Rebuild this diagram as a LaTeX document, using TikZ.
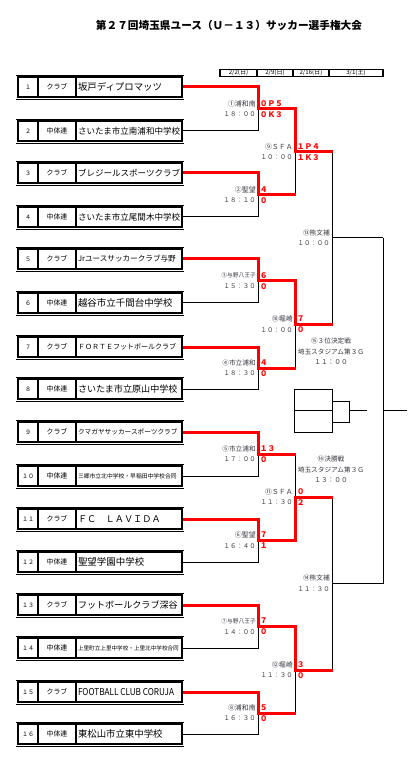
\documentclass[tikz,border=0pt]{standalone}
\usepackage{fontspec}
\setmainfont{Noto Sans CJK JP}
\usetikzlibrary{calc}
\definecolor{winred}{RGB}{255,0,0}
\definecolor{lblc}{RGB}{55,55,65}
\newcommand\fsz[1]{\fontsize{#1}{#1}\selectfont}
\newcommand\teamrow[6]{%
  \node[numcell] (n#1) at (28,#2) {#3};
  \node[typcell] (c#1) at (57,#2) {#4};
  \node[namecell] (t#1) at (129,#2) {\makebox[76.5pt][l]{\fsz{#5}#6}};
  \draw[thinl] (16,#2-12) -- (184,#2-12) (16,#2+12) -- (184,#2+12);}
\newcommand\matchlab[6]{%
  \node[labl,anchor=east,font=\fsz{#4}] (#1a) at (#2,#3-5.5) {#5};
  \node[timel,anchor=east] (#1b) at (#2,#3+5.5) {#6};}
\newcommand\scores[5]{%
  \node[scorel,anchor=west] (#1a) at (#2,#3-5.5) {#4};
  \node[scorel,anchor=west] (#1b) at (#2,#3+5.5) {#5};}
\begin{document}
\begin{tikzpicture}[x=0.75pt,y=-0.75pt,
  cellbox/.style={draw,line width=1.5pt,inner sep=0pt,minimum height=15pt},
  numcell/.style={cellbox,minimum width=15pt,font=\fsz{4.5pt}},
  typcell/.style={cellbox,minimum width=28.5pt,font=\fsz{5.2pt}},
  namecell/.style={cellbox,inner xsep=1.5pt},
  thinl/.style={line width=0.5pt},
  bkl/.style={line width=0.75pt},
  winl/.style={draw=winred,line width=2.25pt,line join=miter,shorten >=-1.1pt},
  labl/.style={inner sep=0pt,text=lblc},
  timel/.style={inner sep=0pt,text=lblc,font=\fsz{4.8pt}},
  scorel/.style={inner sep=0pt,text=winred,font=\bfseries\fsz{5.8pt}},
  ctrl/.style={inner sep=0pt,text=lblc,font=\fsz{5pt}},
  hdr/.style={draw,line width=0.8pt,inner xsep=0pt,inner ysep=0.5pt,text height=3.5pt,text depth=0.9pt,font=\fsz{4.6pt}}]
\fill[white] (0,0) rectangle (420,762);
\useasboundingbox (0,0) rectangle (420,762);
% title
\node[inner sep=0pt] (title) at (229,25) {\bfseries\fsz{8pt}第２７回埼玉県ユース（Ｕ－１３）サッカー選手権大会};
% header dates
\node[hdr,minimum width=27.75pt] (h1) at (238.5,72.7) {2/2(日)};
\node[hdr,minimum width=27pt] (h2) at (275,72.7) {2/9(日)};
\node[hdr,minimum width=27pt] (h3) at (311,72.7) {2/16(日)};
\node[hdr,minimum width=40.5pt] (h4) at (356,72.7) {3/1(土)};
% teams
\teamrow{1}{87}{１}{クラブ}{7.05pt}{坂戸ディプロマッツ}
\teamrow{2}{131}{２}{中体連}{6.4pt}{さいたま市立南浦和中学校}
\teamrow{3}{173}{３}{クラブ}{6.4pt}{ブレジールスポーツクラブ}
\teamrow{4}{217}{４}{中体連}{6.4pt}{さいたま市立尾間木中学校}
\teamrow{5}{259}{５}{クラブ}{5.7pt}{Jrユースサッカークラブ与野}
\teamrow{6}{303}{６}{中体連}{7.1pt}{越谷市立千間台中学校}
\teamrow{7}{347}{７}{クラブ}{5.25pt}{ＦＯＲＴＥフットボールクラブ}
\teamrow{8}{389}{８}{中体連}{6.8pt}{さいたま市立原山中学校}
\teamrow{9}{432}{９}{クラブ}{5pt}{クマガヤサッカースポーツクラブ}
\teamrow{10}{476}{１０}{中体連}{4.35pt}{三郷市立北中学校・早稲田中学校合同}
\teamrow{11}{519}{１１}{クラブ}{6.9pt}{ＦＣ　ＬＡＶＩＤＡ}
\teamrow{12}{562}{１２}{中体連}{7.1pt}{聖望学園中学校}
\teamrow{13}{605}{１３}{クラブ}{6.8pt}{フットボールクラブ深谷}
\teamrow{14}{648}{１４}{中体連}{4.2pt}{上里町立上里中学校・上里北中学校合同}
\teamrow{15}{692}{１５}{クラブ}{7pt}{\resizebox{72pt}{5.3pt}{FOOTBALL CLUB CORUJA}}
\teamrow{16}{734}{１６}{中体連}{7.05pt}{東松山市立東中学校}
% bracket coordinates
\coordinate (M1) at (258,109);
\coordinate (M2) at (258,195);
\coordinate (M3) at (258,281);
\coordinate (M4) at (258,368);
\coordinate (M5) at (258,454);
\coordinate (M6) at (258,540.5);
\coordinate (M7) at (258,626.5);
\coordinate (M8) at (258,713);
\coordinate (N1) at (295,152);
\coordinate (N2) at (295,324.5);
\coordinate (N3) at (295,497);
\coordinate (N4) at (295,670);
\coordinate (P1) at (332,238);
\coordinate (P2) at (332,583.5);
\coordinate (F) at (383,410.75);
\coordinate (E) at (407,410.75);
% black lines
\draw[bkl] (t2.east) -| (M1);
\draw[bkl] (t4.east) -| (M2);
\draw[bkl] (t6.east) -| (M3);
\draw[bkl] (t8.east) -| (M4);
\draw[bkl] (t10.east) -| (M5);
\draw[bkl] (t12.east) -| (M6);
\draw[bkl] (t14.east) -| (M7);
\draw[bkl] (t16.east) -| (M8);
\draw[bkl] (M2 -| N1) -- (N1);
\draw[bkl] (M4 -| N2) -- (N2);
\draw[bkl] (M5 -| N3) -- (N3);
\draw[bkl] (M8 -| N4) -- (N4);
\draw[bkl] (N1 -| P1) -- (N2 -| P1);
\draw[bkl] (P1) -- (P1 -| F);
\draw[bkl] (N3 -| P2) -- (N4 -| P2);
\draw[bkl] (P2) -- (P2 -| F);
\draw[bkl] (P1 -| F) -- (P2 -| F);
\draw[bkl] (F) -- (E);
% third place bracket
\coordinate (Q1) at (294,389);
\coordinate (Q2) at (332,432);
\coordinate (Q3) at (349,401);
\coordinate (Q4) at (332,422);
\coordinate (Q5) at (367,410.75);
\draw[bkl] (Q1) rectangle (Q2);
\draw[bkl] (Q1 |- F) -- (Q2 |- F);
\draw[bkl] (Q3) rectangle (Q4);
\draw[bkl] (Q3 |- F) -- (Q5);
% red winner lines
\draw[winl] (t1.east) -| (M1) -- (M1 -| N1) -- (N1) -- (N1 -| P1);
\draw[winl] (t3.east) -| (M2) -- (M2 -| N1);
\draw[winl] (t5.east) -| (M3) -- (M3 -| N2) -- (N2) -- (N2 -| P1);
\draw[winl] (t7.east) -| (M4) -- (M4 -| N2);
\draw[winl] (t9.east) -| (M5) -- (M5 -| N3);
\draw[winl] (t11.east) -| (M6) -- (M6 -| N3) -- (N3) -- (N3 -| P2);
\draw[winl] (t13.east) -| (M7) -- (M7 -| N4) -- (N4) -- (N4 -| P2);
\draw[winl] (t15.east) -| (M8) -- (M8 -| N4);
% match labels
\matchlab{m1}{256}{109}{5.2pt}{①浦和南}{１８：００}
\matchlab{m2}{256}{195}{5.2pt}{②聖望}{１８：１０}
\matchlab{m3}{256}{281}{4.3pt}{③与野八王子}{１５：３０}
\matchlab{m4}{256}{368}{5pt}{④市立浦和}{１８：３０}
\matchlab{m5}{256}{454}{5pt}{⑤市立浦和}{１７：００}
\matchlab{m6}{256}{540.5}{5.2pt}{⑥聖望}{１６：４０}
\matchlab{m7}{256}{626.5}{4.3pt}{⑦与野八王子}{１４：００}
\matchlab{m8}{256}{713}{5.2pt}{⑧浦和南}{１６：３０}
\matchlab{m9}{293}{152}{5.2pt}{⑨ＳＦＡ}{１０：００}
\matchlab{m10}{293}{324.5}{5.2pt}{⑩堀崎}{１０：００}
\matchlab{m11}{293}{497}{5.2pt}{⑪ＳＦＡ}{１１：３０}
\matchlab{m12}{293}{670}{5.2pt}{⑫堀崎}{１１：３０}
\matchlab{m13}{330}{238}{5pt}{⑬熊文補}{１０：００}
\matchlab{m14}{330}{583.5}{5pt}{⑭熊文補}{１１：３０}
% scores
\scores{s1}{259.5}{109}{０Ｐ５}{０Ｋ３}
\scores{s2}{259.5}{195}{４}{０}
\scores{s3}{259.5}{281}{６}{０}
\scores{s4}{259.5}{368}{４}{０}
\scores{s5}{259.5}{454}{１３}{０}
\scores{s6}{259.5}{540.5}{７}{１}
\scores{s7}{259.5}{626.5}{７}{０}
\scores{s8}{259.5}{713}{５}{０}
\scores{s9}{296.5}{152}{１Ｐ４}{１Ｋ３}
\scores{s10}{296.5}{324.5}{７}{０}
\scores{s11}{296.5}{497}{０}{２}
\scores{s12}{296.5}{670}{３}{０}
% finals labels
\node[ctrl] (f3a) at (331,341) {⑮３位決定戦};
\node[ctrl] (f3b) at (331,351.5) {埼玉スタジアム第３Ｇ};
\node[ctrl] (f3c) at (331,362) {１１：００};
\node[ctrl] (fa) at (331,459) {⑯決勝戦};
\node[ctrl] (fb) at (331,470) {埼玉スタジアム第３Ｇ};
\node[ctrl] (fc) at (331,480) {１３：００};
\end{tikzpicture}
\end{document}
